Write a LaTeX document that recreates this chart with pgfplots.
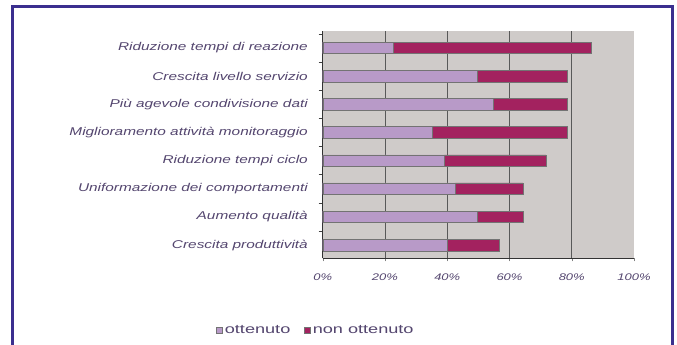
\documentclass[border=0pt]{standalone}
\usepackage{fontspec}
\setmainfont{Liberation Sans}
\newfontfamily\catfont[FakeStretch=1.36]{Liberation Sans}
\newfontfamily\tickfont[FakeStretch=1.35]{Liberation Sans}
\newfontfamily\legfont[FakeStretch=1.45]{Liberation Sans}
\usepackage{pgfplots}
\pgfplotsset{compat=1.18}
\definecolor{lav}{HTML}{B89AC8}
\definecolor{crim}{HTML}{A3225F}
\definecolor{bgg}{HTML}{CFCBC9}
\definecolor{txt}{HTML}{54466F}
\definecolor{bord}{HTML}{3B2F8F}
\begin{document}
\begin{tikzpicture}
\useasboundingbox (0pt,0pt) rectangle (677pt,345pt);
\fill[white] (0pt,0pt) rectangle (677pt,345pt);
\begin{axis}[
  at={(322.7pt,86.7pt)}, anchor=south west,
  scale only axis, width=311.3pt, height=227.3pt,
  xbar stacked, bar width=11.5pt,
  xmin=0, xmax=100, ymin=-0.47, ymax=7.6,
  axis lines*=left,
  axis line style={draw=black!80, line width=0.9pt},
  axis background/.style={fill=bgg},
  tick align=outside,
  major tick length=3pt, minor tick length=4pt,
  xtick={0,20,40,60,80,100},
  xticklabels={0\%,20\%,40\%,60\%,80\%,100\%},
  minor xtick={20,40,60,80},
  xminorgrids,
  minor x tick style={draw=none},
  minor grid style={draw=black!65, line width=0.7pt},
  ytick={0,1,2,3,4,5,6,7},
  yticklabels={Crescita produttività, Aumento qualità, Uniformazione dei comportamenti, Riduzione tempi ciclo, Miglioramento attività monitoraggio, Più agevole condivisione dati, Crescita livello servizio, Riduzione tempi di reazione},
  major y tick style={draw=none},
  minor ytick={0.5,1.5,2.5,3.5,4.5,5.5,6.5,7.5},
  minor y tick style={draw=black!75, line width=0.6pt},
  yticklabel style={font=\catfont\itshape\fontsize{11.3}{12}\selectfont, text=txt, anchor=east, inner sep=0pt, xshift=-11.7pt},
  xticklabel style={font=\tickfont\itshape\fontsize{9.6}{10}\selectfont, text=txt, anchor=north, inner sep=0pt, yshift=-12pt},
  legend style={at={(-0.0215,-0.3185)}, anchor=center, draw=none, fill=none,
    font=\legfont\fontsize{12.5}{14}\selectfont, text=txt,
    /tikz/every even column/.append style={column sep=12pt}},
  legend columns=2,
  legend image code/.code={\draw[#1, line width=0.4pt] (0pt,-3pt) rectangle (6pt,3pt);},
]
\addplot[fill=lav, draw=black!55, line width=0.4pt] coordinates {
  (40.0,0) (49.5,1) (42.6,2) (39.1,3) (35.1,4) (54.8,5) (49.5,6) (22.6,7)};
\addplot[fill=crim, draw=black!55, line width=0.4pt] coordinates {
  (16.8,0) (14.8,1) (21.7,2) (32.6,3) (43.6,4) (23.9,5) (29.2,6) (63.6,7)};
\legend{ottenuto, non ottenuto}
\end{axis}
\draw[line width=2.6pt, bord, line join=miter] (12.2pt,-5pt) -- (12.2pt,338.5pt) -- (672.5pt,338.5pt) -- (672.5pt,-5pt);
\end{tikzpicture}
\end{document}
